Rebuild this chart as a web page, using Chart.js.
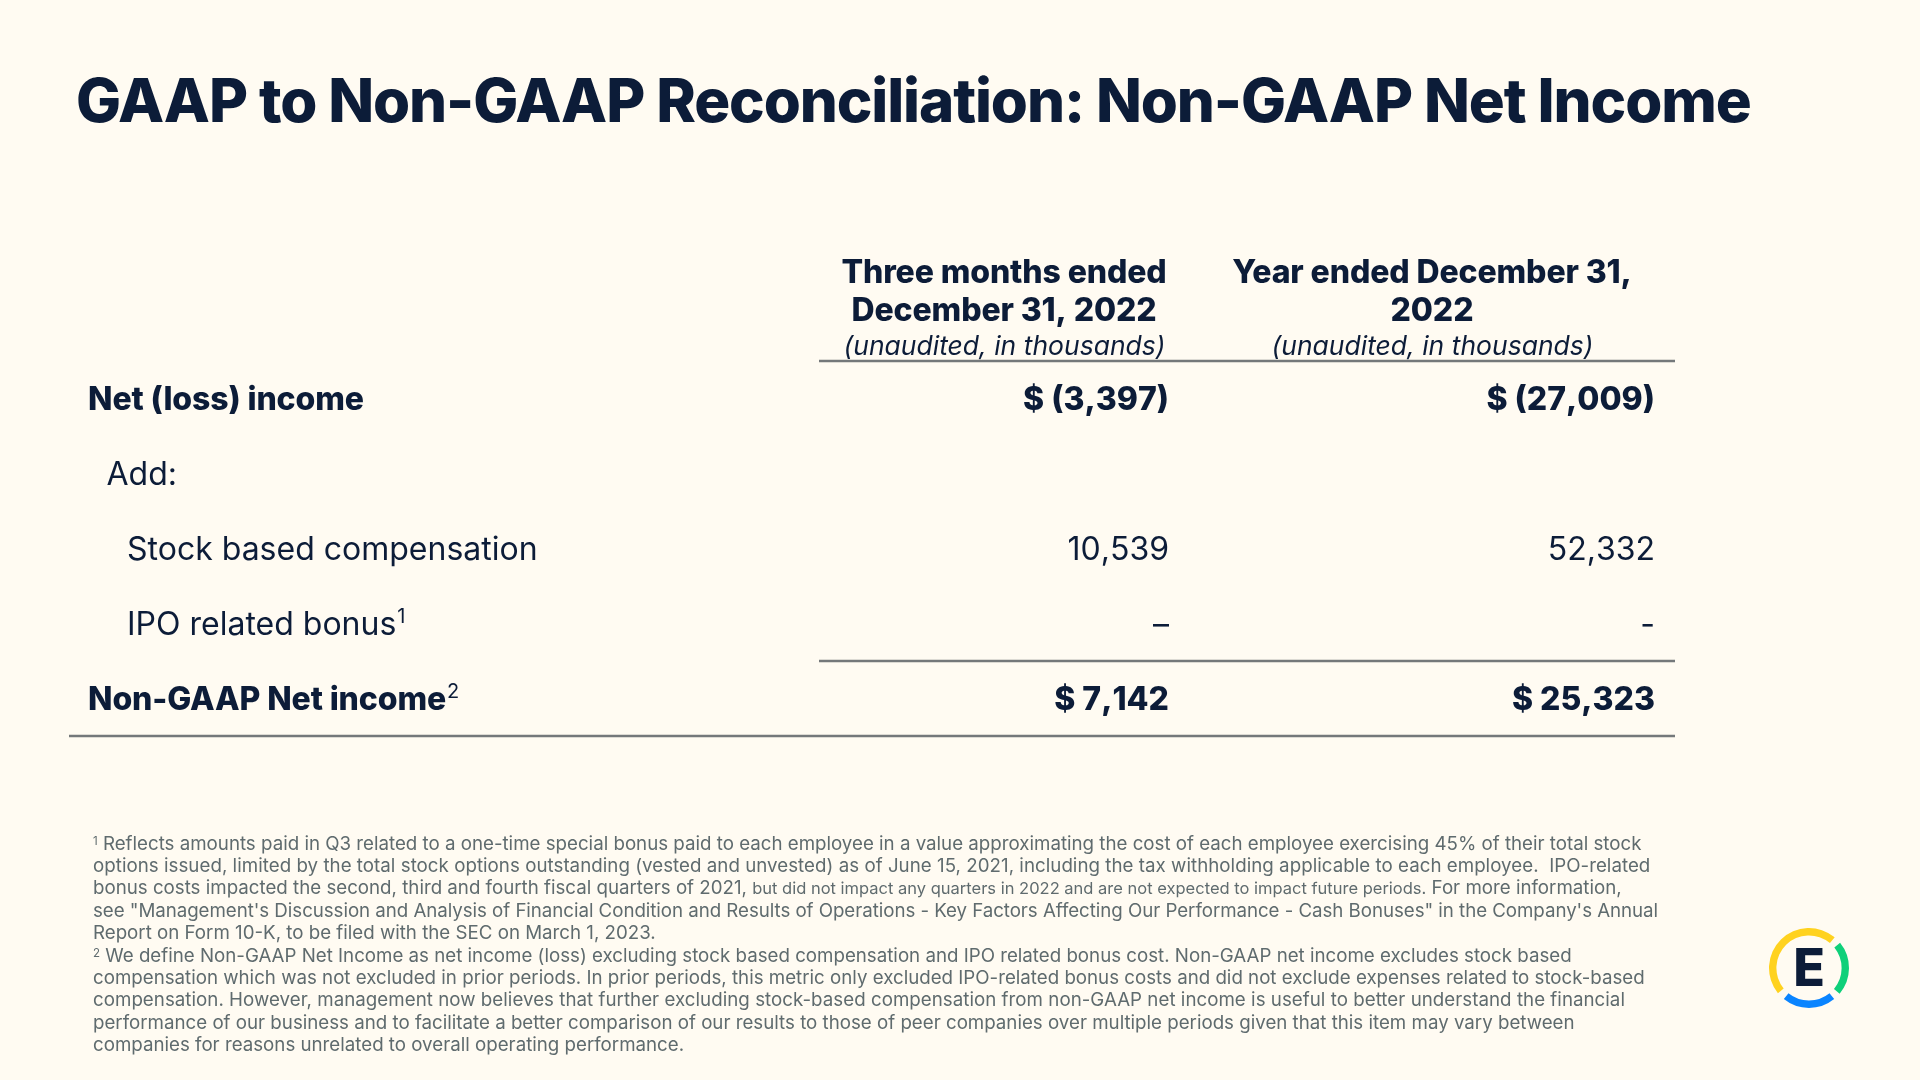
<!DOCTYPE html>
<html lang="en">
<head>
<meta charset="utf-8" />
<title>GAAP to Non-GAAP Reconciliation</title>
<script src="https://cdn.jsdelivr.net/npm/chart.js@4/dist/chart.umd.min.js"></script>
<style>
  html, body { margin: 0; padding: 0; background: #fffbf2; }
  body { position: relative; width: 1920px; height: 1080px; overflow: hidden; font-family: Inter, sans-serif; color: #0c1c38; }
  #tableChart { position: absolute; left: 0; top: 0; }
  h1 { position: absolute; left: 76px; top: 62px; margin: 0; font-size: 60px; line-height: 76px; font-weight: 800; letter-spacing: -1.11px; white-space: nowrap; }
  #notes { position: absolute; left: 93px; top: 832.5px; font-size: 18.72px; line-height: 22.4px; color: #5f6b6e; white-space: nowrap; }
  #notes .small { font-size: 16.5px; }
  #notes .wide { letter-spacing: 0.035px; }
  #notes .tight { letter-spacing: -0.045px; }
  #notes sup { font-size: 11.5px; line-height: 0; vertical-align: 5px; }
  #logo { position: absolute; left: 1764px; top: 923px; width: 90px; height: 90px; }
  #logoLetter { position: absolute; left: 1764px; top: 923px; width: 90px; line-height: 90px; text-align: center; font-size: 52px; font-weight: 800; }
</style>
</head>
<body>
<h1>GAAP to Non-GAAP Reconciliation: Non-GAAP Net Income</h1>
<canvas id="tableChart" width="1920" height="1080"></canvas>
<div id="notes">
<sup>1</sup> Reflects amounts paid in Q3 related to a one-time special bonus paid to each employee in a value approximating the cost of each employee exercising 45% of their total stock<br>
<span class="wide">options issued, limited by the total stock options outstanding (vested and unvested) as of June 15, 2021, including the tax withholding applicable to each employee.&nbsp; IPO-related</span><br>
bonus costs impacted the second, third and fourth fiscal quarters of 2021, <span class="small">but did not impact any quarters in 2022 and are not expected to impact future periods.</span> For more information,<br>
<span class="tight">see "Management's Discussion and Analysis of Financial Condition and Results of Operations - Key Factors Affecting Our Performance - Cash Bonuses" in the Company's Annual</span><br>
Report on Form 10-K, to be filed with the SEC on March 1, 2023.<br>
<sup>2</sup> We define Non-GAAP Net Income as net income (loss) excluding stock based compensation and IPO related bonus cost. Non-GAAP net income excludes stock based<br>
compensation which was not excluded in prior periods. In prior periods, this metric only excluded IPO-related bonus costs and did not exclude expenses related to stock-based<br>
<span class="wide">compensation. However, management now believes that further excluding stock-based compensation from non-GAAP net income is useful to better understand the financial</span><br>
performance of our business and to facilitate a better comparison of our results to those of peer companies over multiple periods given that this item may vary between<br>
companies for reasons unrelated to overall operating performance.
</div>
<canvas id="logo" width="90" height="90"></canvas>
<div id="logoLetter">E</div>

<script>
// table content
const rowLabels = ['Net (loss) income', 'Add:', 'Stock based compensation', 'IPO related bonus', 'Non-GAAP Net income'];
const rowNotes = ['', '', '', '1', '2'];
const threeMonths = ['$ (3,397)', '', '10,539', '–', '$ 7,142'];
const yearEnded = ['$ (27,009)', '', '52,332', '-', '$ 25,323'];
const columnHeads = [
  ['Three months ended', 'December 31, 2022'],
  ['Year ended December 31,', '2022']
];
const columnNote = '(unaudited, in thousands)';
const boldRows = [true, false, false, false, true];
const indentLevel = [0, 1, 2, 2, 0];
const logoSegments = [169, 11, 79, 11, 78, 12];
const logoColors = ['#ffd21f', 'transparent', '#0fd07a', 'transparent', '#0a84ff', 'transparent'];

// x axis runs in table units, row text is hung from these anchors
const INK = '#0c1c38';
const RULE = '#74787a';
const FONT = 'Inter, sans-serif';
const BOLD = '800 ';
const labelAnchor = [19, 37.5, 58];
const valueAnchor = [1100, 1586];
const headAnchor = [935, 1363];
const ruleStart = 750;
const tableWidth = 1606;
const textDrop = 2;

const tablePlugin = {
  id: 'tableText',
  afterDatasetsDraw(chart) {
    const { ctx, scales: { x, y } } = chart;
    const band = y.getPixelForTick(1) - y.getPixelForTick(0);
    ctx.save();
    ctx.fillStyle = INK;
    ctx.textBaseline = 'middle';

    // row labels, with the footnote mark set small and raised
    ctx.textAlign = 'left';
    rowLabels.forEach((label, i) => {
      const lx = x.getPixelForValue(labelAnchor[indentLevel[i]]);
      const ly = y.getPixelForTick(i) + textDrop;
      ctx.font = (boldRows[i] ? BOLD : '400 ') + '32px ' + FONT;
      ctx.letterSpacing = boldRows[i] ? '-0.12px' : '0px';
      ctx.fillText(label, lx, ly);
      if (rowNotes[i]) {
        const w = ctx.measureText(label).width;
        ctx.font = '400 20px ' + FONT;
        ctx.fillText(rowNotes[i], lx + w + 1, ly - 9);
      }
    });

    // value cells sit on the points of each dataset
    ctx.textAlign = 'right';
    ctx.fontKerning = 'none';
    chart.data.datasets.forEach((ds, d) => {
      chart.getDatasetMeta(d).data.forEach((pt, i) => {
        ctx.font = (boldRows[i] ? BOLD : '400 ') + '32px ' + FONT;
        ctx.letterSpacing = '0px';
        ctx.fillText(ds.cells[i], pt.x, pt.y + textDrop);
      });
    });
    ctx.fontKerning = 'auto';

    // column heads above the top rule
    ctx.textAlign = 'center';
    const top = y.getPixelForTick(0) - band / 2;
    columnHeads.forEach((lines, c) => {
      const cx = x.getPixelForValue(headAnchor[c]);
      ctx.font = BOLD + '32px ' + FONT;
      ctx.letterSpacing = '-0.12px';
      ctx.fillText(lines[0], cx, top - 88);
      ctx.fillText(lines[1], cx, top - 50);
      ctx.font = 'italic 400 26.5px ' + FONT;
      ctx.letterSpacing = '0px';
      ctx.fillText(columnNote, cx + 0.5, top - 14);
    });

    // rules: top of the table, above the total, below the total
    ctx.strokeStyle = RULE;
    ctx.lineWidth = 2.5;
    [[0, ruleStart], [4, ruleStart], [5, 0]].forEach(([edge, from]) => {
      const py = top + band * edge;
      ctx.beginPath();
      ctx.moveTo(x.getPixelForValue(from), py);
      ctx.lineTo(x.getPixelForValue(tableWidth), py);
      ctx.stroke();
    });
    ctx.restore();
  }
};

function cellDataset(cells, col) {
  return {
    label: columnHeads[col].join(' '),
    cells: cells,
    data: rowLabels.map(r => ({ x: valueAnchor[col], y: r })),
    showLine: false,
    pointRadius: 0
  };
}

new Chart(document.getElementById('tableChart'), {
  type: 'line',
  data: {
    labels: rowLabels,
    datasets: [cellDataset(threeMonths, 0), cellDataset(yearEnded, 1)]
  },
  options: {
    responsive: false,
    animation: false,
    events: [],
    layout: { padding: { left: 69, right: 245, top: 361, bottom: 344 } },
    plugins: { legend: { display: false }, tooltip: { enabled: false } },
    scales: {
      x: { type: 'linear', min: 0, max: tableWidth, display: false },
      y: { type: 'category', labels: rowLabels, offset: true, display: false }
    }
  },
  plugins: [tablePlugin]
});

// logo ring
new Chart(document.getElementById('logo'), {
  type: 'doughnut',
  data: {
    datasets: [{ data: logoSegments, backgroundColor: logoColors, borderWidth: 0 }]
  },
  options: {
    responsive: false,
    animation: false,
    events: [],
    rotation: 231,
    cutout: '81.5%',
    layout: { padding: 5 },
    plugins: { legend: { display: false }, tooltip: { enabled: false } }
  }
});
</script>
</body>
</html>
